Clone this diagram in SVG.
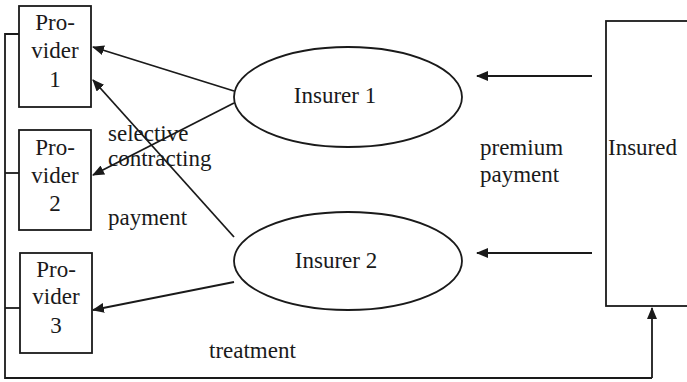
<svg xmlns="http://www.w3.org/2000/svg" width="687" height="382" viewBox="0 0 687 382">
<style>
.box{fill:#fff;stroke:#1a1a1a;stroke-width:1.8}
.ln{fill:none;stroke:#1a1a1a;stroke-width:1.8}
.arr{fill:none;stroke:#1a1a1a;stroke-width:1.8;marker-end:url(#ah)}
text{font-family:"Liberation Serif","Times New Roman",serif;font-size:23px;fill:#1a1a1a}
.c{text-anchor:middle}
</style>
<defs>
<marker id="ah" viewBox="0 0 12 10" refX="11" refY="5" markerWidth="12" markerHeight="10" markerUnits="userSpaceOnUse" orient="auto">
<path d="M0,0 L12,5 L0,10 Z" fill="#1a1a1a"/>
</marker>
</defs>
<rect width="687" height="382" fill="#fff"/>
<g id="connectors">
<polyline class="ln" points="19,34 5,34 5,378 652,378"/>
<line class="ln" x1="5" y1="173" x2="19" y2="173"/>
<line class="ln" x1="5" y1="308" x2="20" y2="308"/>
<line class="arr" x1="652" y1="378" x2="652" y2="308"/>
<line class="arr" x1="234" y1="91" x2="93" y2="47"/>
<line class="arr" x1="234" y1="103" x2="93" y2="175"/>
<line class="arr" x1="234" y1="237" x2="93" y2="80"/>
<line class="arr" x1="234" y1="282" x2="93" y2="310"/>
<line class="arr" x1="592" y1="76" x2="477" y2="76"/>
<line class="arr" x1="592" y1="253" x2="477" y2="253"/>
</g>
<g id="provider1">
<rect class="box" x="19" y="6" width="72" height="101"/>
<text class="c" x="55" y="30">Pro-</text>
<text class="c" x="55" y="58">vider</text>
<text class="c" x="55" y="87">1</text>
</g>
<g id="provider2">
<rect class="box" x="19" y="130" width="72" height="100"/>
<text class="c" x="55" y="155">Pro-</text>
<text class="c" x="55" y="183">vider</text>
<text class="c" x="55" y="211">2</text>
</g>
<g id="provider3">
<rect class="box" x="20" y="253" width="72" height="100"/>
<text class="c" x="56" y="277">Pro-</text>
<text class="c" x="56" y="304">vider</text>
<text class="c" x="56" y="333">3</text>
</g>
<g id="insurer1">
<ellipse class="box" cx="348" cy="97" rx="114" ry="50"/>
<text class="c" x="335" y="103">Insurer 1</text>
</g>
<g id="insurer2">
<ellipse class="box" cx="348" cy="261" rx="114" ry="49"/>
<text class="c" x="336" y="268">Insurer 2</text>
</g>
<g id="insured">
<rect class="box" x="606" y="21" width="90" height="285"/>
<text x="608" y="155">Insured</text>
</g>
<g id="labels">
<text x="108" y="141">selective</text>
<text x="108" y="166">contracting</text>
<text x="108" y="225">payment</text>
<text x="480" y="155">premium</text>
<text x="480" y="182">payment</text>
<text x="209" y="358">treatment</text>
</g>
</svg>
